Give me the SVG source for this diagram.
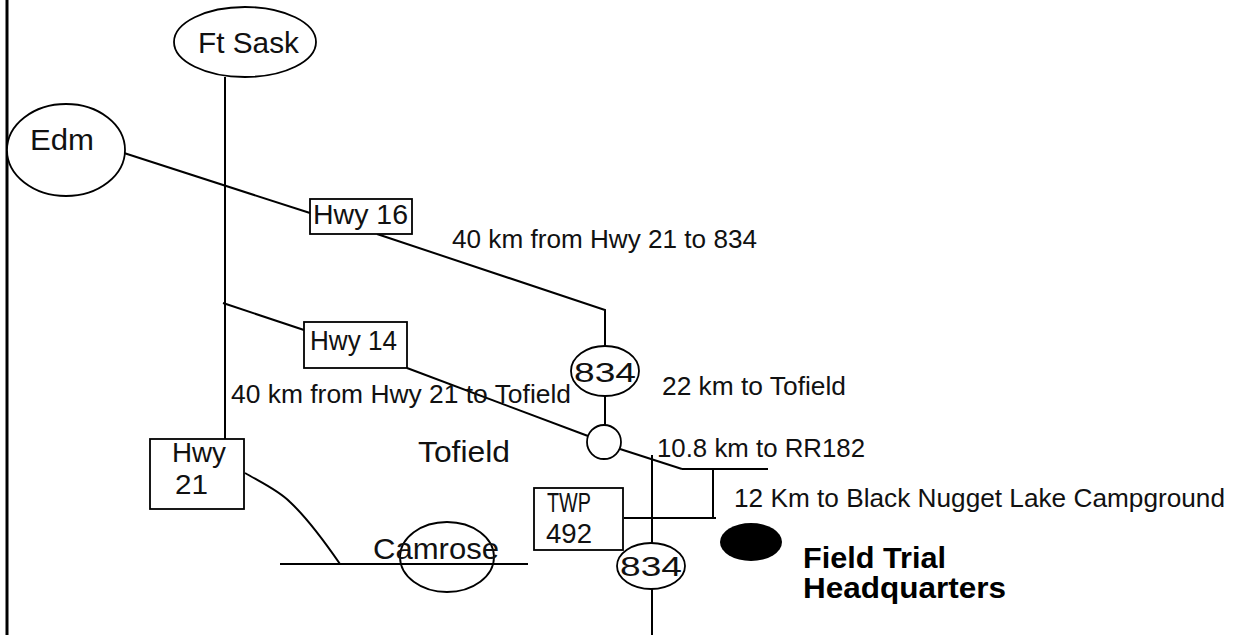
<svg xmlns="http://www.w3.org/2000/svg" width="1235" height="635" viewBox="0 0 1235 635">
<style>
.bg{fill:#fff}
.road{fill:none;stroke:#000;stroke-width:2}
.shape{fill:#fff;stroke:#000;stroke-width:1.8}
.open{fill:none;stroke:#000;stroke-width:1.8}
.lbl{font-family:"Liberation Sans",Arial,sans-serif;font-size:29px;fill:#111}
.box{font-family:"Liberation Sans",Arial,sans-serif;font-size:27px;fill:#111}
.dist{font-family:"Liberation Sans",Arial,sans-serif;font-size:26px;fill:#111}
.bold{font-family:"Liberation Sans",Arial,sans-serif;font-size:29px;font-weight:bold;fill:#000}
</style>
<rect class="bg" x="0" y="0" width="1235" height="635"/>
<line x1="7" y1="0" x2="7" y2="635" stroke="#000" stroke-width="3"/>
<g id="connectors">
<line class="road" x1="225" y1="77" x2="225" y2="439"/>
<line class="road" x1="124" y1="153" x2="310" y2="213"/>
<polyline class="road" points="377,234 605,310 605,346"/>
<line class="road" x1="605" y1="396" x2="605" y2="425"/>
<line class="road" x1="223" y1="303" x2="304" y2="330"/>
<line class="road" x1="407" y1="368" x2="588" y2="436"/>
<line class="road" x1="620" y1="449" x2="682" y2="469"/>
<line class="road" x1="682" y1="469" x2="768" y2="469"/>
<line class="road" x1="652" y1="455" x2="652" y2="543"/>
<line class="road" x1="652" y1="589" x2="652" y2="635"/>
<line class="road" x1="713" y1="469" x2="713" y2="519"/>
<line class="road" x1="624" y1="518" x2="716" y2="518"/>
<path class="road" d="M245,473 C262,483 278,490 290,502 C305,516 320,535 340,564"/>
<line class="road" x1="280" y1="564" x2="528" y2="564"/>
</g>
<g id="ft-sask"><ellipse class="shape" cx="245" cy="42" rx="71" ry="35"/><text class="lbl" x="198" y="53" textLength="101" lengthAdjust="spacingAndGlyphs">Ft Sask</text></g>
<g id="edm"><ellipse class="shape" cx="66" cy="150" rx="59" ry="46"/><text class="lbl" x="30" y="150" textLength="64" lengthAdjust="spacingAndGlyphs">Edm</text></g>
<g id="hwy16"><rect class="shape" x="310" y="199" width="102" height="35"/><text class="box" x="313" y="224" textLength="95" lengthAdjust="spacingAndGlyphs">Hwy 16</text></g>
<g id="hwy14"><rect class="shape" x="304" y="322" width="103" height="46"/><text class="box" x="310" y="350" textLength="87" lengthAdjust="spacingAndGlyphs">Hwy 14</text></g>
<g id="hwy834-north"><ellipse class="shape" cx="605" cy="371" rx="34" ry="25"/><text class="box" x="605" y="382" text-anchor="middle" font-size="30" textLength="62" lengthAdjust="spacingAndGlyphs">834</text></g>
<g id="junction"><circle class="shape" cx="604" cy="442" r="17"/></g>
<g id="hwy21"><rect class="shape" x="150" y="439" width="94" height="70"/><text class="box" x="172" y="462" font-size="24" textLength="54" lengthAdjust="spacingAndGlyphs">Hwy</text><text class="box" x="175" y="494" font-size="26" textLength="33" lengthAdjust="spacingAndGlyphs">21</text></g>
<g id="twp492"><rect class="shape" x="534" y="488" width="89" height="62"/><text class="box" x="547" y="512" font-size="26" textLength="44" lengthAdjust="spacingAndGlyphs">TWP</text><text class="box" x="546" y="543" textLength="46" lengthAdjust="spacingAndGlyphs">492</text></g>
<g id="hwy834-south"><ellipse class="shape" cx="651" cy="566" rx="34" ry="23"/><text class="box" x="651" y="576" text-anchor="middle" font-size="29" textLength="62" lengthAdjust="spacingAndGlyphs">834</text></g>
<g id="camrose"><ellipse class="open" cx="447" cy="557" rx="47" ry="35"/><text class="lbl" x="373" y="559" textLength="126" lengthAdjust="spacingAndGlyphs">Camrose</text></g>
<g id="tofield"><text class="lbl" x="418" y="462" font-size="31" textLength="92" lengthAdjust="spacingAndGlyphs">Tofield</text></g>
<g id="field-trial-hq"><ellipse cx="751" cy="542" rx="31" ry="19" fill="#000"/><text class="bold" x="803" y="568" textLength="143" lengthAdjust="spacingAndGlyphs">Field Trial</text><text class="bold" x="803" y="598" textLength="203" lengthAdjust="spacingAndGlyphs">Headquarters</text></g>
<g id="labels">
<text class="dist" x="452" y="248" textLength="305" lengthAdjust="spacingAndGlyphs">40 km from Hwy 21 to 834</text>
<text class="dist" x="231" y="403" textLength="340" lengthAdjust="spacingAndGlyphs">40 km from Hwy 21 to Tofield</text>
<text class="dist" x="662" y="395" textLength="184" lengthAdjust="spacingAndGlyphs">22 km to Tofield</text>
<text class="dist" x="657" y="457" textLength="208" lengthAdjust="spacingAndGlyphs">10.8 km to RR182</text>
<text class="dist" x="734" y="507" textLength="491" lengthAdjust="spacingAndGlyphs">12 Km to Black Nugget Lake Campground</text>
</g>
</svg>
